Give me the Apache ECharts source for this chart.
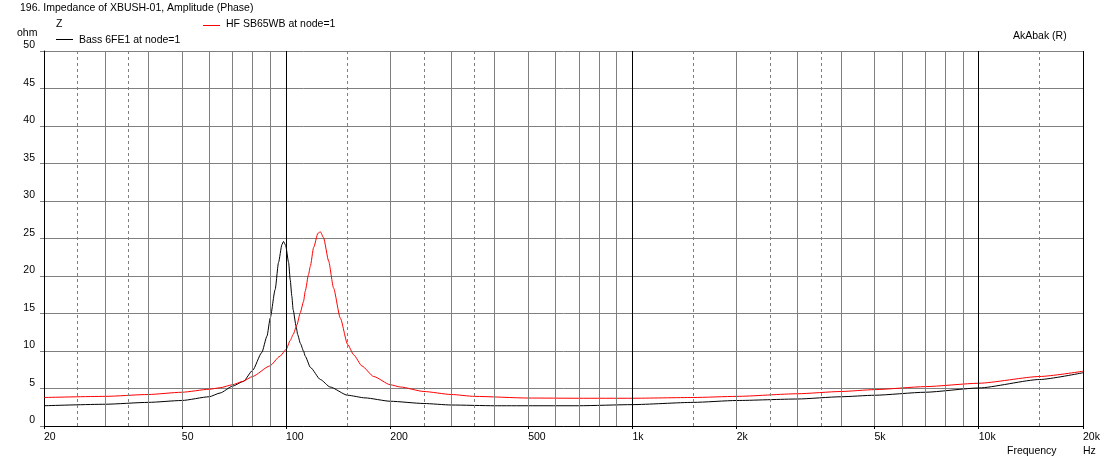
<!DOCTYPE html>
<html>
<head>
<meta charset="utf-8">
<script src="https://cdn.jsdelivr.net/npm/echarts@6/dist/echarts.min.js"></script>
<style>
html,body{margin:0;padding:0;background:#fff;}
#chart{width:1109px;height:463px;}
</style>
</head>
<body>
<div id="chart"></div>
<script>
// ---- data ----
const freqBass = [20,30,40,50,60,64.5,70,75.3,80,85.1,88.1,90,93,95.1,97.3,98.3,99.7,101.7,102.8,103.9,104.8,106.9,108,110,112.3,113.6,117.6,125.6,134,150.5,169,200,250,300,400,500,700,1000,1500,2000,3000,4000,5000,7000,10000,15000,20000];
const zBass    = [2.7,2.9,3.15,3.4,3.9,4.4,5.3,5.95,7.4,9.8,12.0,14.4,18.2,21.8,24.2,24.6,24.1,21.8,19.5,17.3,15.5,13.3,12.2,11.0,10.0,9.3,7.8,6.2,5.2,4.1,3.75,3.3,3.0,2.8,2.7,2.7,2.7,2.85,3.15,3.4,3.6,3.9,4.1,4.5,5.07,6.2,7.1];

const freqHF = [20,30,40,50,60,64.5,70,75,80,89.7,96,100,102.8,104.8,107.5,109.9,112.3,113.6,116.1,117.5,120.1,123.6,125.6,128.3,132.7,137.1,143.4,150.5,156.7,165.6,179,200,213.8,250,300,350,500,700,1000,1500,2000,3000,4000,5000,7000,10000,15000,20000];
const zHF    = [3.8,3.95,4.2,4.5,4.9,5.1,5.5,5.95,6.6,8.0,9.3,10.2,11.4,12.2,13.5,15.1,16.6,18.0,20.2,21.3,23.8,25.7,25.9,25.1,22.0,18.4,14.4,10.9,9.5,8.0,6.6,5.5,5.2,4.6,4.2,3.95,3.73,3.7,3.7,3.8,3.95,4.3,4.6,4.85,5.25,5.7,6.6,7.3];

// tick labels / grid positions
const xLabelValues = [20,50,100,200,500,1000,2000,5000,10000,20000];
const gridDecade = [100,1000,10000,20000];
const gridSolid  = [30,40,50,60,70,80,90,200,300,400,500,600,700,800,900,2000,3000,4000,5000,6000,7000,8000,9000];
const gridDashed = [25,35,150,250,350,1500,2500,3500,15000];

const FONT = 'Liberation Sans';
const FS = 10.5;
const chart = echarts.init(document.getElementById('chart'), null, {renderer:'canvas'});

function pairs(fs, vs){ return fs.map((f,i)=>[f, vs[i]]); }
function vline(v, color, type){
  return {xAxis: v, lineStyle:{color: color, width:1, type: type}};
}
const markData = []
  .concat(gridSolid.map(v=>vline(v,'#808080','solid')))
  .concat(gridDashed.map(v=>vline(v,'#808080',[3,3])))
  .concat(gridDecade.map(v=>vline(v,'#000000','solid')));

function txt(x, y, s, align){
  return {type:'text', x:x, y:y, silent:true,
    style:{text:s, x:0, y:0, fill:'#000', font:FS+'px "'+FONT+'"', textAlign: align||'left', textVerticalAlign:'middle'}};
}

chart.setOption({
  animation:false,
  backgroundColor:'#ffffff',
  textStyle:{fontFamily:FONT},
  grid:{left:44, right:26, top:51, bottom:37, containLabel:false},
  xAxis:{
    type:'log', logBase:10, min:20, max:20000,
    axisLine:{show:true, lineStyle:{color:'#000', width:1}},
    axisTick:{show:true, length:3, lineStyle:{color:'#000'}, customValues: xLabelValues},
    axisLabel:{show:true, customValues: xLabelValues, color:'#000', fontSize:FS, fontFamily:FONT,
      align:'left', verticalAlign:'top', margin:6,
      formatter: v => v >= 1000 ? (Math.round(v/1000)+'k') : String(Math.round(v))},
    splitLine:{show:false}, minorTick:{show:false}, minorSplitLine:{show:false}
  },
  yAxis:{
    type:'value', min:0, max:50, interval:5,
    axisLine:{show:true, lineStyle:{color:'#000', width:1}},
    axisTick:{show:true, length:4, lineStyle:{color:'#808080'}},
    axisLabel:{color:'#000', fontSize:FS, fontFamily:FONT, margin:9, verticalAlign:'bottom'},
    splitLine:{show:true, lineStyle:{color:'#808080', width:1}}
  },
  series:[
    {name:'grid', type:'line', data:[], z:1, silent:true,
     markLine:{silent:true, symbol:['none','none'], label:{show:false}, animation:false, data: markData}},
    {name:'Bass 6FE1 at node=1', type:'line', data: pairs(freqBass, zBass), z:3,
     showSymbol:false, smooth:0.2, smoothMonotone:'x', lineStyle:{color:'#000', width:1}, itemStyle:{color:'#000'}},
    {name:'HF SB65WB at node=1', type:'line', data: pairs(freqHF, zHF), z:4,
     showSymbol:false, smooth:0.2, smoothMonotone:'x', lineStyle:{color:'#ff0000', width:1}, itemStyle:{color:'#ff0000'}}
  ],
  graphic:[
    txt(20, 8, '196. Impedance of XBUSH-01, Amplitude (Phase)'),
    txt(56, 24, 'Z'),
    txt(17, 33, 'ohm'),
    {type:'line', silent:true, shape:{x1:203, y1:25.5, x2:220, y2:25.5}, style:{stroke:'#ff0000', lineWidth:1}},
    txt(226, 24, 'HF SB65WB at node=1'),
    {type:'line', silent:true, shape:{x1:56, y1:39.5, x2:73, y2:39.5}, style:{stroke:'#000', lineWidth:1}},
    txt(79, 40, 'Bass 6FE1 at node=1'),
    txt(1013, 36, 'AkAbak (R)'),
    txt(1007, 451, 'Frequency'),
    txt(1083, 451, 'Hz')
  ]
});
</script>
</body>
</html>
